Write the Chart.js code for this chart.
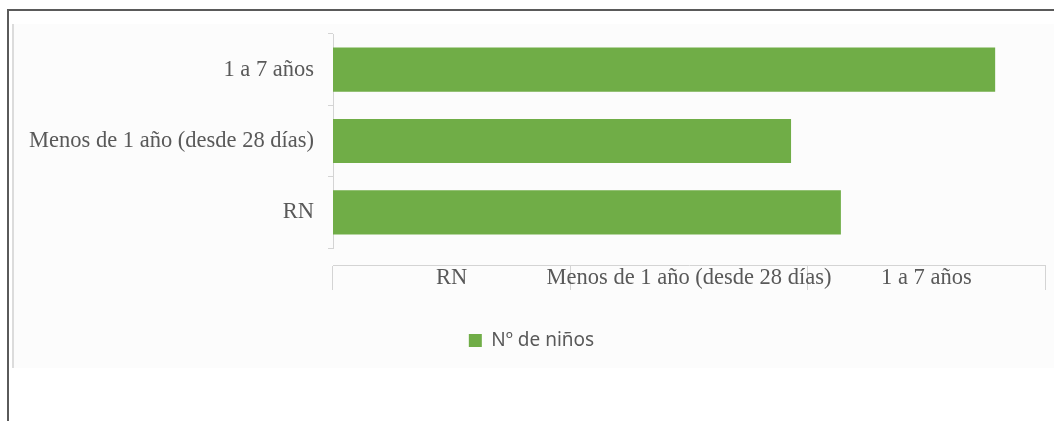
<!DOCTYPE html>
<html>
<head>
<meta charset="utf-8">
<script src="https://cdn.jsdelivr.net/npm/chart.js@4"></script>
<style>
  body { margin: 0; background: #fff; width: 1054px; height: 421px; overflow: hidden; position: relative; }
  .frame { position: absolute; left: 7px; top: 9px; right: 0; bottom: 0; border-top: 2px solid #5a5a5a; border-left: 2px solid #5a5a5a; }
  .panel { position: absolute; left: 12px; top: 24px; width: 1040px; height: 344px; background: #fcfcfc; border-left: 2px solid #dcdcdc; }
</style>
</head>
<body>
<div class="frame"></div>
<div class="panel"><canvas id="c"></canvas></div>
<script>
// categories & values (value axis reads in "category" units 0..3)
const categories = ['RN', 'Menos de 1 año (desde 28 días)', '1 a 7 años'];
const ninos = [2.14, 1.93, 2.79];
const axisLabels = ['RN', 'Menos de 1 año (desde 28 días)', '1 a 7 años'];

const GRAY = '#595959';
const LINE = '#d4d4d4';
const serif = { family: '"Liberation Serif", "Times New Roman", serif', size: 22.5 };

new Chart(document.getElementById('c'), {
  type: 'bar',
  data: {
    labels: categories,
    datasets: [{
      label: 'Nº de niños',
      data: ninos,
      backgroundColor: '#70ad47',
      borderWidth: 0,
      barPercentage: 1,
      categoryPercentage: 0.62
    }]
  },
  options: {
    indexAxis: 'y',
    responsive: true,
    maintainAspectRatio: false,
    animation: false,
    layout: { padding: { top: 10, left: 4, right: 9, bottom: 8 } },
    plugins: {
      tooltip: { enabled: false },
      legend: {
        position: 'bottom',
        labels: {
          boxWidth: 13, boxHeight: 13, padding: 10, color: GRAY,
          font: { family: '"Noto Sans", sans-serif', size: 19 }
        }
      }
    },
    scales: {
      y: {
        type: 'category',
        reverse: true,
        grid: { offset: true, drawOnChartArea: false, tickLength: 5, color: LINE },
        border: { color: LINE },
        ticks: { color: GRAY, font: serif, padding: 14 },
        afterFit: s => { s.width = 315; s.paddingTop = 0; s.paddingBottom = 0; }
      },
      x: {
        type: 'linear',
        min: 0, max: 3,
        position: 'bottom',
        weight: 0,
        grid: { display: false },
        border: { display: false },
        ticks: { display: false },
        afterFit: s => { s.height = 17; s.paddingLeft = 0; s.paddingRight = 0; }
      },
      x2: {
        type: 'category',
        labels: axisLabels,
        position: 'bottom',
        weight: 1,
        offset: true,
        grid: { offset: true, drawOnChartArea: false, tickLength: 25, color: LINE },
        border: { color: LINE },
        ticks: { color: GRAY, font: serif, padding: -25, maxRotation: 0, autoSkip: false },
        afterFit: s => { s.height = 56; s.paddingLeft = 0; s.paddingRight = 0; }
      }
    }
  }
});
</script>
</body>
</html>
